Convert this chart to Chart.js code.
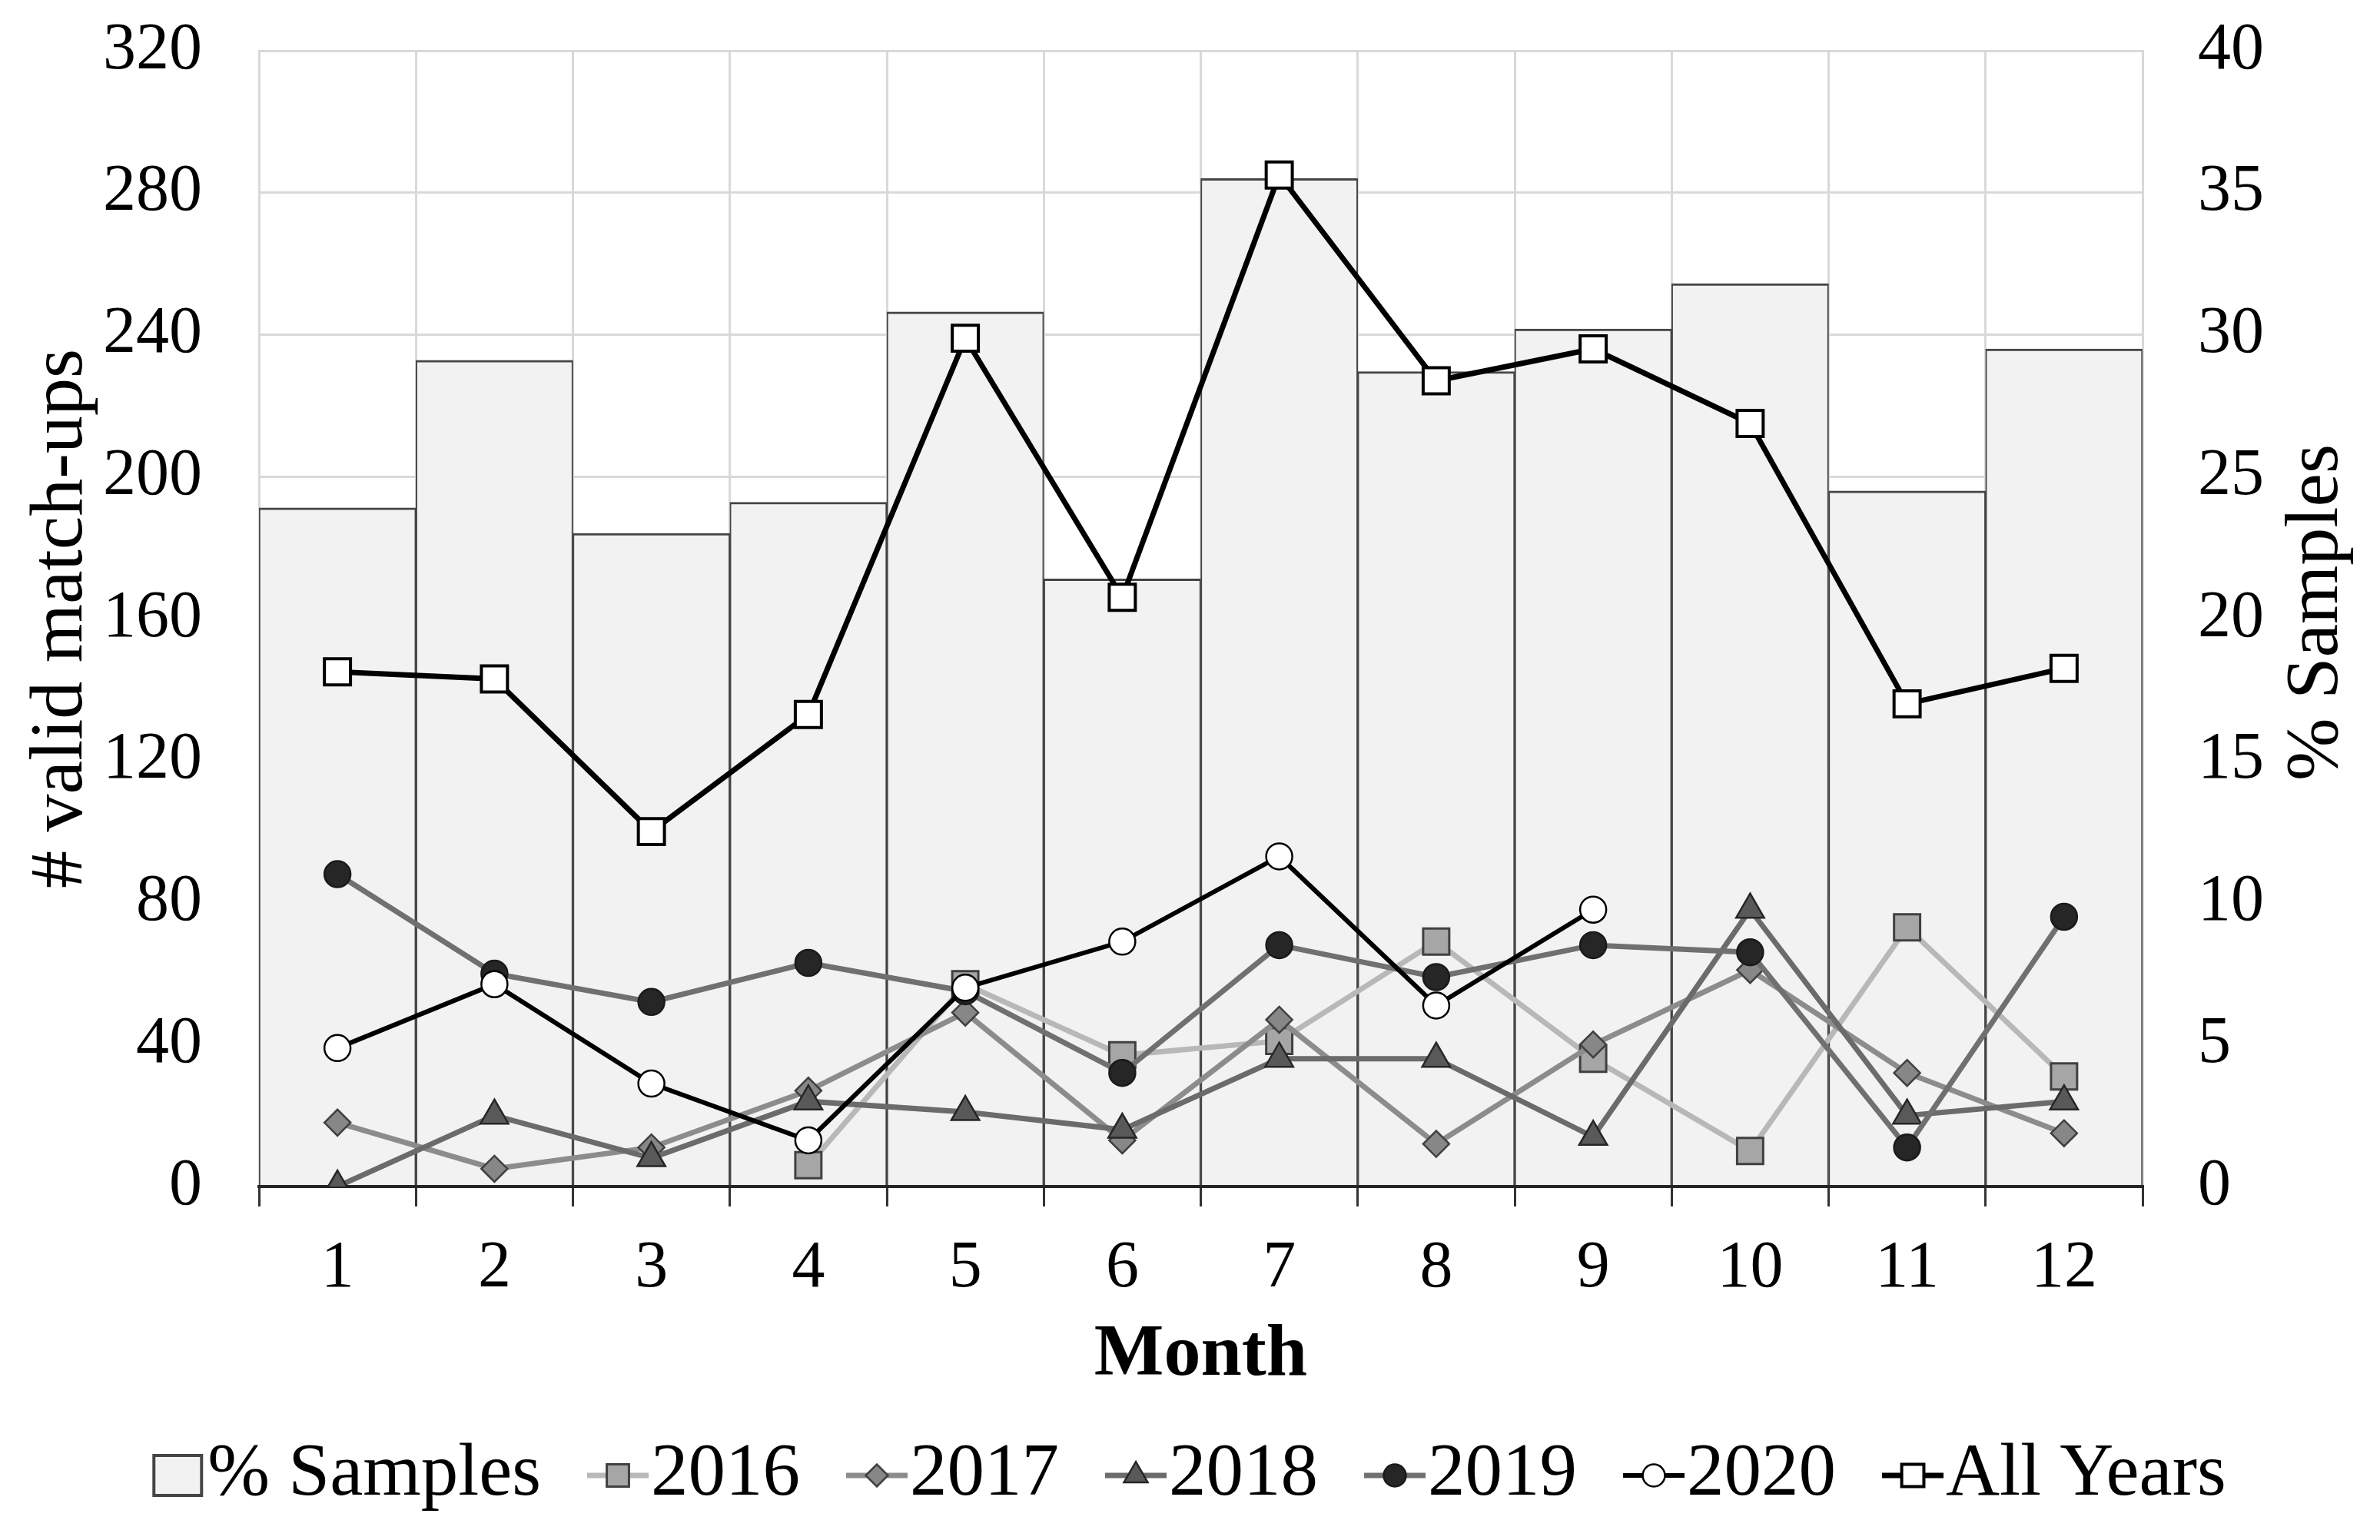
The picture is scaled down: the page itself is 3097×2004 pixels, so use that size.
<!DOCTYPE html>
<html>
<head>
<meta charset="utf-8">
<script src="https://cdn.jsdelivr.net/npm/chart.js@4.4.1/dist/chart.umd.min.js"></script>
<style>
  html, body { margin: 0; padding: 0; background: #fff; }
  canvas { display: block; }
</style>
</head>
<body>
<canvas id="chart" width="3097" height="2004" style="width:3097px;height:2004px"></canvas>
<script>
// data
const months = ['1', '2', '3', '4', '5', '6', '7', '8', '9', '10', '11', '12'];
const pctSamples = [23.9, 29.1, 23.0, 24.1, 30.8, 21.4, 35.5, 28.7, 30.2, 31.8, 24.5, 29.5];
const y2016 = [null, null, null, 6, 57, 37, 41, 69, 36, 10, 73, 31];
const y2017 = [18, 5, 11, 27, 49, 13, 47, 12, 40, 61, 32, 15];
const y2018 = [0, 20, 8, 24, 21, 16, 36, 36, 14, 78, 20, 24];
const y2019 = [88, 60, 52, 63, 55, 32, 68, 59, 68, 66, 11, 76];
const y2020 = [39, 57, 29, 13, 56, 69, 93, 51, 78, null, null, null];
const allYears = [145, 143, 100, 133, 239, 166, 285, 227, 236, 215, 136, 146];

const leftTicks = { min: 0, max: 320, step: 40 };
const rightTicks = { min: 0, max: 40, step: 5 };

const W = 3097, H = 2004;
const serif = '"Liberation Serif", "Times New Roman", serif';
const gridGrey = '#d9d9d9';

Chart.defaults.font.family = serif;
Chart.defaults.color = '#000';

function lineSet(label, data, line, fill, edge, style, radius, bw, width, order) {
    return {
        type: 'line',
        label: label,
        data: data,
        yAxisID: 'y',
        borderColor: line,
        borderWidth: width,
        backgroundColor: fill,
        pointStyle: style,
        pointRadius: radius,
        pointBackgroundColor: fill,
        pointBorderColor: edge,
        pointBorderWidth: bw,
        tension: 0,
        fill: false,
        order: order
    };
}

// y axes: fixed width, no extra label overflow padding
function fixWidth(w) {
    return function (scale) {
        scale.width = w;
        scale.paddingTop = 0;
        scale.paddingBottom = 0;
    };
}

// bottom axis line sits over the bars but under the markers
const axisLine = {
    id: 'axisLine',
    afterDatasetDraw(chart, args) {
        if (args.index !== 0) return;
        const ctx = chart.ctx, a = chart.chartArea;
        ctx.save();
        ctx.strokeStyle = '#262626';
        ctx.lineWidth = 4;
        ctx.beginPath();
        ctx.moveTo(a.left - 2, a.bottom);
        ctx.lineTo(a.right + 2, a.bottom);
        ctx.stroke();
        ctx.restore();
    }
};

// legend and right title drawn by hand (line + marker icons, title reads upward)
const extras = {
    id: 'extras',
    afterDraw(chart) {
        const ctx = chart.ctx, a = chart.chartArea;
        ctx.save();

        ctx.font = '98px ' + serif;
        ctx.fillStyle = '#000';
        ctx.textAlign = 'center';
        ctx.textBaseline = 'middle';
        ctx.translate(3015, (a.top + a.bottom) / 2 - 8);
        ctx.rotate(-Math.PI / 2);
        ctx.fillText('% Samples', 0, 0);
        ctx.setTransform(1, 0, 0, 1, 0, 0);

        ctx.font = '97px ' + serif;
        ctx.textAlign = 'left';
        const ly = 1920;
        const items = chart.data.datasets.map(function (ds) {
            const isBar = ds.type === 'bar';
            const iconW = isBar ? 62 : 80;
            const gap = isBar ? 8 : 3;
            return { ds: ds, isBar: isBar, iconW: iconW, gap: gap, textW: ctx.measureText(ds.label).width };
        });
        const spacing = 60;
        let total = 0;
        items.forEach(function (it, i) { total += it.iconW + it.gap + it.textW + (i ? spacing : 0); });
        let x = (W - total) / 2;
        items.forEach(function (it) {
            const ds = it.ds;
            if (it.isBar) {
                ctx.fillStyle = ds.backgroundColor;
                ctx.strokeStyle = ds.borderColor;
                ctx.lineWidth = 4;
                ctx.fillRect(x, ly - 26, it.iconW, 52);
                ctx.strokeRect(x, ly - 26, it.iconW, 52);
            } else {
                ctx.strokeStyle = ds.borderColor;
                ctx.lineWidth = ds.borderWidth;
                ctx.beginPath();
                ctx.moveTo(x, ly);
                ctx.lineTo(x + it.iconW, ly);
                ctx.stroke();
                ctx.fillStyle = ds.pointBackgroundColor;
                ctx.strokeStyle = ds.pointBorderColor;
                ctx.lineWidth = ds.pointBorderWidth;
                Chart.helpers.drawPoint(ctx, {
                    pointStyle: ds.pointStyle,
                    radius: ds.pointRadius * 0.85,
                    borderWidth: ds.pointBorderWidth,
                    rotation: 0
                }, x + it.iconW / 2, ly);
            }
            x += it.iconW + it.gap;
            ctx.fillStyle = '#000';
            ctx.fillText(ds.label, x, ly);
            x += it.textW + spacing;
        });
        ctx.restore();
    }
};

const ctx = document.getElementById('chart').getContext('2d');
const chart = new Chart(ctx, {
    type: 'bar',
    data: {
        labels: months,
        datasets: [
            {
                type: 'bar',
                label: '% Samples',
                data: pctSamples,
                yAxisID: 'y1',
                backgroundColor: '#f2f2f2',
                borderColor: '#454545',
                borderWidth: { top: 3, left: 2, right: 2, bottom: 0 },
                borderSkipped: false,
                categoryPercentage: 1,
                barPercentage: 1,
                order: 10
            },
            lineSet('2016', y2016, '#b8b8b8', '#a6a6a6', '#404040', 'rect', 24, 3, 7, 6),
            lineSet('2017', y2017, '#8c8c8c', '#878787', '#404040', 'rectRot', 17, 2.5, 7, 5),
            lineSet('2018', y2018, '#6b6b6b', '#595959', '#262626', 'triangle', 21, 2.5, 7, 4),
            lineSet('2019', y2019, '#707070', '#262626', '#1a1a1a', 'circle', 17, 2.5, 7, 3),
            lineSet('2020', y2020, '#000000', '#ffffff', '#000000', 'circle', 17, 2.5, 6, 2),
            lineSet('All Years', allYears, '#000000', '#ffffff', '#000000', 'rect', 24, 4, 7, 1)
        ]
    },
    options: {
        responsive: false,
        animation: false,
        devicePixelRatio: 1,
        layout: { padding: { top: 66, left: 0, right: 0, bottom: 0 } },
        plugins: {
            legend: { display: false },
            tooltip: { enabled: false }
        },
        scales: {
            x: {
                type: 'category',
                offset: true,
                grid: {
                    offset: true,
                    color: gridGrey,
                    lineWidth: 3,
                    tickLength: 26,
                    tickColor: '#333333',
                    tickWidth: 3
                },
                border: { color: '#262626', width: 4 },
                ticks: { font: { size: 86 }, padding: 30, maxRotation: 0 },
                title: {
                    display: true,
                    text: 'Month',
                    font: { size: 96, weight: 'bold' },
                    padding: { top: 0, bottom: 182 }
                },
                afterFit: function (scale) { scale.height = H - 1544; }
            },
            y: {
                position: 'left',
                min: leftTicks.min,
                max: leftTicks.max,
                ticks: { stepSize: leftTicks.step, font: { size: 86 }, padding: 74 },
                grid: { color: gridGrey, lineWidth: 3, drawTicks: false },
                border: { color: gridGrey, width: 3 },
                title: {
                    display: true,
                    text: '# valid match-ups',
                    font: { size: 98 },
                    padding: { top: 21, bottom: 0 }
                },
                afterFit: fixWidth(337)
            },
            y1: {
                position: 'right',
                min: rightTicks.min,
                max: rightTicks.max,
                ticks: { stepSize: rightTicks.step, font: { size: 86 }, padding: 72 },
                grid: { drawOnChartArea: false, drawTicks: false },
                border: { color: gridGrey, width: 3 },
                afterFit: fixWidth(W - 2788)
            }
        }
    },
    plugins: [axisLine, extras]
});
</script>
</body>
</html>
